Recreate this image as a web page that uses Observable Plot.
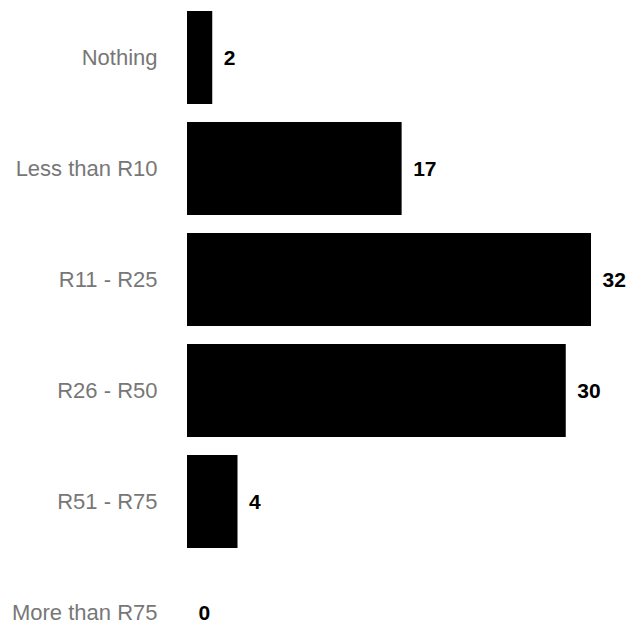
<!DOCTYPE html>
<html>
<head>
<meta charset="utf-8">
<script src="https://cdn.jsdelivr.net/npm/d3@7"></script>
<script src="https://cdn.jsdelivr.net/npm/@observablehq/plot@0.6"></script>
<style>
  html, body { margin: 0; padding: 0; background: #fff; }
  #chart svg { display: block; }
</style>
</head>
<body>
<div id="chart"></div>
<script>
const categories = ["Nothing", "Less than R10", "R11 - R25", "R26 - R50", "R51 - R75", "More than R75"];
const values = [2, 17, 32, 30, 4, 0];

const data = categories.map((c, i) => ({category: c, value: values[i]}));

const chart = Plot.plot({
  width: 643,
  height: 625,
  marginLeft: 187,
  marginRight: 52,
  marginTop: 0,
  marginBottom: 0,
  style: {fontFamily: "'Liberation Sans', Arial, Helvetica, sans-serif", fontSize: "22px", background: "#fff"},
  x: {domain: [0, 32], range: [187, 591], axis: null},
  y: {domain: categories, range: [10, 660], paddingInner: 0.166, paddingOuter: 0, label: null},
  marks: [
    Plot.barX(data, {x: "value", y: "category", fill: "#000"}),
    Plot.text(data, {x: "value", y: "category", text: d => String(d.value), textAnchor: "start", dx: 11, fontWeight: "bold", fontSize: 21, fontFamily: "'Liberation Sans', Arial, sans-serif", fill: "#000"}),
    Plot.axisY({tickSize: 0, tickPadding: 30, fontSize: 22, fontFamily: "'Liberation Sans', Arial, sans-serif", color: "#777", label: null})
  ]
});
document.getElementById("chart").appendChild(chart);
</script>
</body>
</html>
